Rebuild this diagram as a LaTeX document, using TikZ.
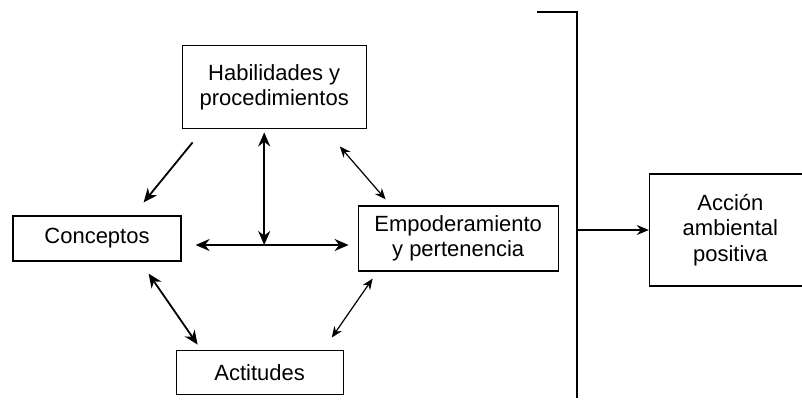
\documentclass[tikz,border=0pt]{standalone}
\usepackage{fontspec}
\setmainfont{Liberation Sans}
\usetikzlibrary{positioning, arrows.meta}
\tikzstyle{diag-base} = [text centered, align=center, draw=black, line width=1.2pt, inner sep=0pt,
 font=\fontsize{22}{25.5}\selectfont]
\tikzstyle{diag-box} = [diag-base, rectangle]
\tikzstyle{diag-single} = [-{Stealth[length=14pt, width=12pt]}, line width=1.8pt]
\tikzstyle{diag-double} = [diag-single, {Stealth[length=14pt, width=12pt]}-{Stealth[length=14pt, width=12pt]}]
\tikzstyle{diag-thin-double} = [{Stealth[length=11pt, width=9pt]}-{Stealth[length=11pt, width=9pt]}, line width=1.2pt]
\tikzstyle{diag-bar} = [line width=1.5pt]
\tikzstyle{diag-out} = [-{Stealth[length=12pt, width=10pt]}, line width=1.5pt]

\begin{document}
\begin{tikzpicture}[x=1pt, y=-1pt]
\useasboundingbox (0,0) rectangle (802,403);

\node (CONCEPTOS) [diag-box, minimum width=168pt, minimum height=45pt] at (97,238.5) {Conceptos};

\node (EMPODERAMIENTO) [diag-box, minimum width=200pt, minimum height=65pt, right=176pt of CONCEPTOS]
 {Empoderamiento\\y pertenencia};

\node (HABILIDADES) [diag-box, minimum width=184pt, minimum height=83pt,
 above right=86pt and 0pt of CONCEPTOS.north east] {Habilidades y\\procedimientos};

\node (ACTITUDES) [diag-box, minimum width=167pt, minimum height=44pt,
 below right=88pt and -6pt of CONCEPTOS.south east] {Actitudes};

% runs past the right edge of the page
\node (ACCION) [diag-box, minimum width=162pt, minimum height=112pt,
 right=90pt of EMPODERAMIENTO, yshift=8.5pt] {Acción\\ambiental\\positiva};

% Bar on the right
\coordinate (BAR_STUB) at (537,12);
\coordinate (BAR_TOP) at (577,12);
\coordinate (BAR_BOTTOM) at (577,398);
\coordinate (BAR_MID) at (BAR_TOP |- ACCION.west);
\draw[diag-bar] (BAR_STUB) -- (BAR_TOP) -- (BAR_BOTTOM);
\draw[diag-out] (BAR_MID) -- (ACCION.west);

% Arrows between the boxes
\draw[diag-single] ([xshift=11pt,yshift=-13pt]HABILIDADES.south west) -- ([xshift=-38pt,yshift=13pt]CONCEPTOS.north east);

\coordinate (H_LEFT) at ([xshift=14pt,yshift=-6.5pt]CONCEPTOS.east);
\coordinate (H_RIGHT) at ([xshift=-9pt,yshift=-6.5pt]EMPODERAMIENTO.west);
\coordinate (V_TOP) at ([xshift=-10pt,yshift=-3pt]HABILIDADES.south);
\coordinate (CROSS) at (V_TOP |- H_LEFT);
\draw[diag-double] (H_LEFT) -- (H_RIGHT);
\draw[diag-double] (V_TOP) -- (CROSS);

\draw[diag-thin-double] ([xshift=-27pt,yshift=-17pt]HABILIDADES.south east) -- ([xshift=28pt,yshift=6pt]EMPODERAMIENTO.north west);

\draw[diag-double] ([xshift=-33pt,yshift=-12pt]CONCEPTOS.south east) -- ([xshift=22pt,yshift=5pt]ACTITUDES.north west);

\draw[diag-thin-double] ([xshift=-12pt,yshift=12pt]ACTITUDES.north east) -- ([xshift=15pt,yshift=-7pt]EMPODERAMIENTO.south west);

\end{tikzpicture}
\end{document}
